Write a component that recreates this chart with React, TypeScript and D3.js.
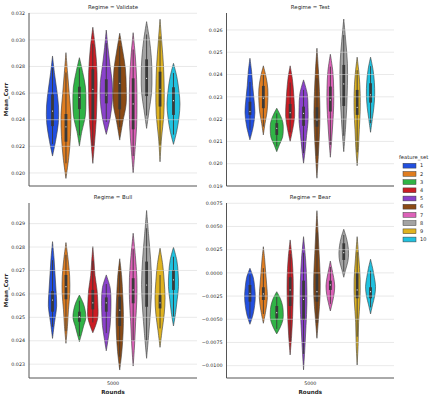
import React from "react";
import * as d3 from "d3";

// feature sets (hue) and seaborn "bright" palette
const featureSets = ["1", "2", "3", "4", "5", "6", "7", "8", "9", "10"];
const palette = ["#023eff", "#ff7c00", "#1ac938", "#e8000b", "#8b2be2", "#9f4800", "#f14cc1", "#a3a3a3", "#ffc400", "#00d7ff"];

// per violin: [lo tip, q1, median, q3, hi tip]
const validateStats = [
  [0.02127, 0.02352, 0.02465, 0.0259, 0.02879],
  [0.01959, 0.02235, 0.02347, 0.02443, 0.02904],
  [0.02202, 0.0248, 0.02569, 0.02648, 0.02866],
  [0.02072, 0.02398, 0.02629, 0.02779, 0.03095],
  [0.0229, 0.02523, 0.02586, 0.02704, 0.03074],
  [0.02247, 0.02478, 0.02674, 0.02806, 0.0305],
  [0.02, 0.02328, 0.02519, 0.02711, 0.03054],
  [0.02335, 0.02578, 0.02711, 0.02854, 0.03137],
  [0.02084, 0.02499, 0.02629, 0.02761, 0.03155],
  [0.02215, 0.02436, 0.02543, 0.02644, 0.02824],
];
// density profile (bottom -> top), 1 = full hue slot
const validateDens = [
  [0.5, 0.87, 0.89, 0.62, 0.28],
  [0.42, 0.67, 0.74, 0.5, 0.25],
  [0.37, 0.87, 0.97, 0.9, 0.5],
  [0.28, 0.52, 0.62, 0.62, 0.4],
  [0.6, 0.9, 0.88, 0.55, 0.25],
  [0.45, 0.95, 0.97, 0.85, 0.45],
  [0.28, 0.52, 0.57, 0.52, 0.32],
  [0.37, 0.74, 0.8, 0.7, 0.42],
  [0.22, 0.57, 0.62, 0.52, 0.27],
  [0.5, 0.82, 0.97, 0.8, 0.5],
];

const testStats = [
  [0.02107, 0.02219, 0.02234, 0.02278, 0.02473],
  [0.02129, 0.02249, 0.02294, 0.02349, 0.02439],
  [0.02054, 0.02129, 0.02159, 0.02182, 0.02249],
  [0.021, 0.02204, 0.02229, 0.02268, 0.02439],
  [0.02002, 0.0217, 0.02226, 0.02256, 0.02376],
  [0.01935, 0.02166, 0.02196, 0.02253, 0.02518],
  [0.02029, 0.02234, 0.02286, 0.02346, 0.02491],
  [0.02054, 0.02259, 0.02358, 0.02443, 0.02649],
  [0.01991, 0.02219, 0.02253, 0.02331, 0.02478],
  [0.02141, 0.02274, 0.02309, 0.02361, 0.02478],
];
const testDens = [
  [0.5, 0.74, 0.6, 0.4, 0.25],
  [0.25, 0.55, 0.67, 0.67, 0.42],
  [0.42, 0.87, 0.97, 0.92, 0.55],
  [0.4, 0.67, 0.62, 0.5, 0.32],
  [0.25, 0.45, 0.67, 0.67, 0.55],
  [0.2, 0.37, 0.45, 0.37, 0.22],
  [0.2, 0.37, 0.5, 0.5, 0.37],
  [0.25, 0.45, 0.55, 0.55, 0.3],
  [0.2, 0.32, 0.45, 0.45, 0.3],
  [0.25, 0.5, 0.62, 0.57, 0.37],
];

const bullStats = [
  [0.0241, 0.02524, 0.02574, 0.02612, 0.02823],
  [0.02389, 0.02577, 0.02631, 0.02681, 0.02819],
  [0.02396, 0.02481, 0.02503, 0.02524, 0.02595],
  [0.02434, 0.02534, 0.02562, 0.02617, 0.02802],
  [0.02357, 0.02524, 0.02562, 0.02585, 0.02681],
  [0.02275, 0.02463, 0.02531, 0.02588, 0.0275],
  [0.02292, 0.0256, 0.02617, 0.02667, 0.02859],
  [0.02325, 0.02545, 0.02638, 0.02738, 0.02956],
  [0.02372, 0.02538, 0.02562, 0.02595, 0.02795],
  [0.02463, 0.02617, 0.0266, 0.02702, 0.02799],
];
const bullDens = [
  [0.3, 0.62, 0.52, 0.37, 0.22],
  [0.22, 0.37, 0.57, 0.55, 0.32],
  [0.32, 0.62, 0.95, 0.87, 0.55],
  [0.72, 0.75, 0.62, 0.32, 0.17],
  [0.3, 0.57, 0.67, 0.7, 0.57],
  [0.32, 0.5, 0.55, 0.45, 0.3],
  [0.22, 0.37, 0.55, 0.55, 0.32],
  [0.32, 0.6, 0.75, 0.6, 0.3],
  [0.3, 0.62, 0.75, 0.62, 0.4],
  [0.32, 0.55, 0.75, 0.7, 0.5],
];

const bearStats = [
  [-0.00554, -0.0031, -0.0022, -0.0013, 0.0005],
  [-0.00543, -0.00292, -0.00227, -0.00155, 0.00282],
  [-0.00658, -0.0049, -0.00429, -0.00357, -0.00203],
  [-0.00885, -0.00357, -0.00184, -0.00047, 0.00355],
  [-0.01046, -0.00508, -0.00285, -0.00084, 0.0039],
  [-0.00705, -0.0031, -0.00203, -0.00012, 0.0067],
  [-0.00411, -0.00184, -0.0013, -0.00084, 0.00128],
  [-0.00047, 0.00139, 0.00218, 0.00319, 0.0047],
  [-0.00993, -0.00274, -0.00184, 0.00002, 0.0039],
  [-0.00443, -0.00274, -0.00203, -0.00155, 0.00147],
];
const bearDens = [
  [0.45, 0.7, 0.8, 0.7, 0.5],
  [0.37, 0.6, 0.5, 0.35, 0.2],
  [0.55, 0.92, 0.97, 0.87, 0.55],
  [0.22, 0.37, 0.45, 0.45, 0.3],
  [0.2, 0.37, 0.5, 0.47, 0.3],
  [0.25, 0.47, 0.47, 0.32, 0.17],
  [0.3, 0.55, 0.65, 0.5, 0.25],
  [0.3, 0.62, 0.72, 0.62, 0.37],
  [0.15, 0.22, 0.42, 0.45, 0.25],
  [0.3, 0.62, 0.75, 0.57, 0.32],
];

const validateTicks = [0.02, 0.022, 0.024, 0.026, 0.028, 0.03, 0.032];
const testTicks = [0.019, 0.02, 0.021, 0.022, 0.023, 0.024, 0.025, 0.026];
const bullTicks = [0.023, 0.024, 0.025, 0.026, 0.027, 0.028, 0.029];
const bearTicks = [-0.01, -0.0075, -0.005, -0.0025, 0, 0.0025, 0.005, 0.0075];

const xCategory = "5000";

const FONT = "DejaVu Sans, sans-serif";
const INK = "#262626";

function fill(c: string) {
  const h = d3.hsl(c);
  h.s *= 0.75;
  return h.formatHex();
}

const panels = [
  { title: "Regime = Validate", stats: validateStats, dens: validateDens, ticks: validateTicks, domain: [0.01902, 0.03202], fmt: ".3f", x0: 29, x1: 197, top: 13, bottom: 186, yLabel: true, xLabel: false },
  { title: "Regime = Test", stats: testStats, dens: testDens, ticks: testTicks, domain: [0.019, 0.02676], fmt: ".3f", x0: 226.5, x1: 394, top: 13, bottom: 186, yLabel: false, xLabel: false },
  { title: "Regime = Bull", stats: bullStats, dens: bullDens, ticks: bullTicks, domain: [0.02241, 0.02988], fmt: ".3f", x0: 29, x1: 197, top: 203, bottom: 378, yLabel: true, xLabel: true },
  { title: "Regime = Bear", stats: bearStats, dens: bearDens, ticks: bearTicks, domain: [-0.01133, 0.00753], fmt: ".4f", x0: 226.5, x1: 394, top: 203, bottom: 378, yLabel: false, xLabel: true },
];

function Panel({ p }: { p: (typeof panels)[number] }) {
  const y = d3.scaleLinear().domain(p.domain).range([p.bottom, p.top]);
  const x = d3.scaleBand().domain([xCategory]).range([p.x0, p.x1]).paddingInner(0).paddingOuter(0);
  const hue = d3.scaleBand().domain(featureSets).range([0, x.bandwidth() * 0.8]);
  const groupStart = (x(xCategory) as number) + x.bandwidth() * 0.1;
  const slot = hue.bandwidth();
  const fmt = d3.format(p.fmt);

  return (
    <g>
      {p.stats.map((s, i) => {
        const [lo, q1, med, q3, hi] = s;
        const cx = groupStart + (hue(featureSets[i]) as number) + slot / 2;
        const pts: [number, number][] = [[lo, 0]];
        p.dens[i].forEach((w, k) => pts.push([lo + ((k + 1) / 6) * (hi - lo), w]));
        pts.push([hi, 0]);
        const area = d3
          .area<[number, number]>()
          .y((d) => y(d[0]))
          .x0((d) => cx - (d[1] * slot) / 2)
          .x1((d) => cx + (d[1] * slot) / 2)
          .curve(d3.curveCatmullRom);
        const iqr = q3 - q1;
        const wlo = Math.max(q1 - 1.5 * iqr, lo + 0.12 * (hi - lo));
        const whi = Math.min(q3 + 1.5 * iqr, hi - 0.12 * (hi - lo));
        return (
          <g key={i}>
            <path d={area(pts) || ""} fill={fill(palette[i])} stroke="#3d3d3d" strokeWidth={0.6} />
            <line x1={cx} x2={cx} y1={y(wlo)} y2={y(whi)} stroke="#3a3a3a" strokeWidth={0.9} />
            <line x1={cx} x2={cx} y1={y(q1)} y2={y(q3)} stroke="#3a3a3a" strokeWidth={2.8} />
            <circle cx={cx} cy={y(med)} r={0.6} fill="#f2f2f2" />
          </g>
        );
      })}
      {p.ticks.map((t) => (
        <g key={t}>
          <line x1={p.x0} x2={p.x1} y1={y(t)} y2={y(t)} stroke="#d8d8d8" strokeOpacity={0.7} strokeWidth={0.8} />
          <text x={p.x0 - 4} y={y(t)} dy="0.35em" textAnchor="end" fontSize={4.8} fill={INK} fontFamily={FONT}>
            {fmt(t)}
          </text>
        </g>
      ))}
      <line x1={p.x0} x2={p.x0} y1={p.top} y2={p.bottom} stroke="#555" strokeWidth={1} />
      <line x1={p.x0} x2={p.x1} y1={p.bottom} y2={p.bottom} stroke="#555" strokeWidth={1} />
      <text x={(p.x0 + p.x1) / 2} y={p.top - 4.5} textAnchor="middle" fontSize={5.4} fill={INK} fontFamily={FONT}>
        {p.title}
      </text>
      {p.yLabel && (
        <text
          transform={`translate(7.5,${(p.top + p.bottom) / 2}) rotate(-90)`}
          textAnchor="middle"
          fontSize={5.6}
          fontWeight="bold"
          fill={INK}
          fontFamily={FONT}
        >
          Mean_Corr
        </text>
      )}
      {p.xLabel && (
        <>
          <text x={(x(xCategory) as number) + x.bandwidth() / 2} y={p.bottom + 7} textAnchor="middle" fontSize={4.8} fill={INK} fontFamily={FONT}>
            {xCategory}
          </text>
          <text x={(x(xCategory) as number) + x.bandwidth() / 2} y={p.bottom + 15.5} textAnchor="middle" fontSize={5.6} fontWeight="bold" fill={INK} fontFamily={FONT}>
            Rounds
          </text>
        </>
      )}
    </g>
  );
}

function Legend() {
  const rows = d3.scaleBand().domain(featureSets).range([161.6, 243.6]);
  return (
    <g>
      <text x={399} y={159} fontSize={5.2} fill={INK} fontFamily={FONT}>
        feature_set
      </text>
      {featureSets.map((f, i) => {
        const cy = (rows(f) as number) + rows.bandwidth() / 2;
        return (
          <g key={f}>
            <rect x={403} y={cy - 2.4} width={13} height={4.8} fill={fill(palette[i])} stroke="#3d3d3d" strokeWidth={0.5} />
            <text x={420} y={cy} dy="0.35em" fontSize={5} fill={INK} fontFamily={FONT}>
              {f}
            </text>
          </g>
        );
      })}
    </g>
  );
}

export default function App() {
  return (
    <svg width={436} height={398} style={{ position: "absolute", left: 0, top: 0, background: "#fff" }}>
      <rect width={436} height={398} fill="#fff" />
      {panels.map((p) => (
        <Panel key={p.title} p={p} />
      ))}
      <Legend />
    </svg>
  );
}
